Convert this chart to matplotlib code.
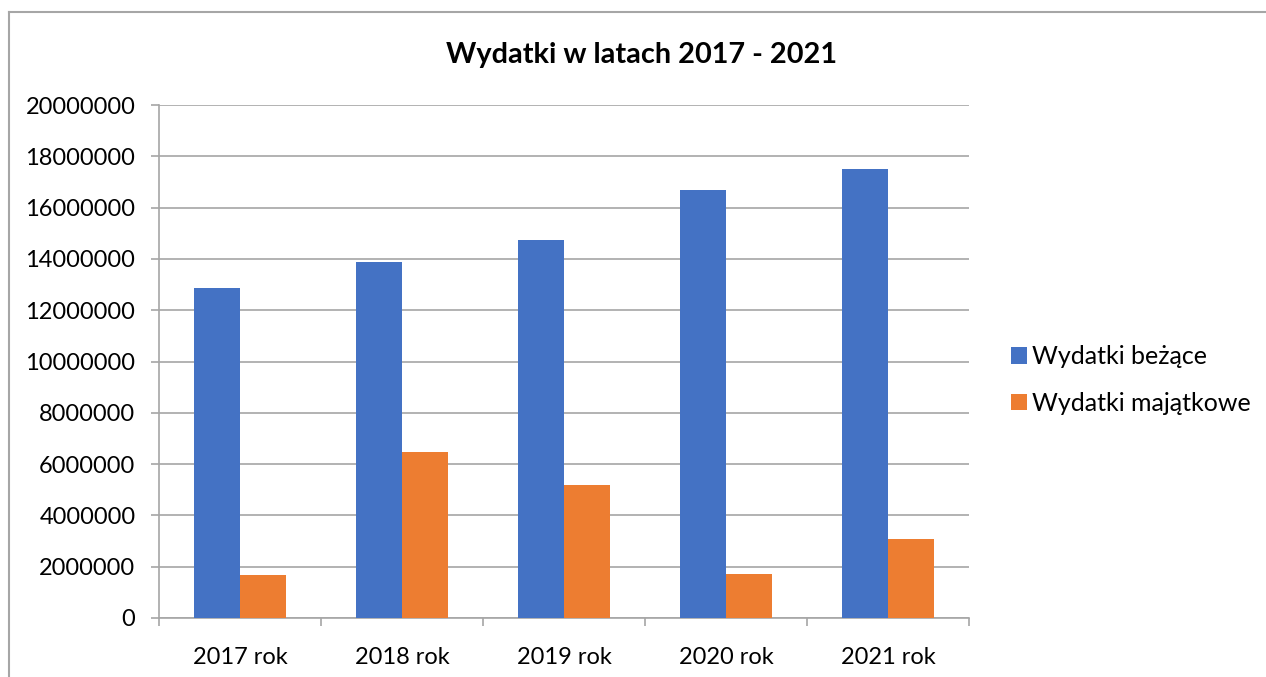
import numpy as np
import matplotlib
matplotlib.use("Agg")
import matplotlib.pyplot as plt
from matplotlib.lines import Line2D

categories = ["2017 rok", "2018 rok", "2019 rok", "2020 rok", "2021 rok"]
biezace = [12880000, 13870000, 14720000, 16670000, 17520000]
majatkowe = [1680000, 6480000, 5170000, 1730000, 3070000]
series_names = ["Wydatki beżące", "Wydatki majątkowe"]
yticks = list(range(0, 20000001, 2000000))

plt.rcParams["font.family"] = ["Lato", "DejaVu Sans"]

fig = plt.figure(figsize=(12.66, 6.77), dpi=100)
ax = fig.add_axes([159 / 1266, 59 / 677, 810 / 1266, 513 / 677])

x = np.arange(len(categories))
w = 0.287
ax.bar(x - w / 2, biezace, w, color="#4472C4", label=series_names[0], zorder=3)
ax.bar(x + w / 2, majatkowe, w, color="#ED7D31", label=series_names[1], zorder=3)

ax.set_xlim(-0.5, len(categories) - 0.5)
ax.set_ylim(0, 20000000)
ax.set_yticks(yticks)
ax.set_yticklabels([str(v) for v in yticks])
ax.set_xticks(x)
ax.set_xticklabels(categories)
ax.set_xticks(np.arange(-0.5, len(categories)), minor=True)

grid_c = "#a6a6a6"
ax.yaxis.grid(True, color=grid_c, linewidth=1.2, zorder=0)
for s in ["top", "right"]:
    ax.spines[s].set_visible(False)
ax.spines["left"].set_color(grid_c)
ax.spines["bottom"].set_color(grid_c)
ax.spines["left"].set_linewidth(1.2)
ax.spines["bottom"].set_linewidth(1.2)

ax.tick_params(axis="y", length=6, color=grid_c, width=1.2, labelsize=17, pad=11)
ax.tick_params(axis="x", which="major", length=0, labelsize=17, pad=21)
ax.tick_params(axis="x", which="minor", length=6, color=grid_c, width=1.2)

fig.text(641 / 1266, 1 - 55 / 677, "Wydatki w latach 2017 - 2021",
         ha="center", va="center", fontsize=20.8, fontweight="bold")

fig.legend(loc="center left", bbox_to_anchor=(988 / 1266, 1 - 380 / 677),
           frameon=False, fontsize=18, handlelength=0.65, handleheight=0.65,
           handletextpad=0.2, labelspacing=0.95)

# outer chart border (cut at the right and bottom)
fig.add_artist(Line2D([9 / 1266, 9 / 1266], [0, 1 - 12 / 677], color=grid_c,
                      linewidth=1.5, transform=fig.transFigure))
fig.add_artist(Line2D([9 / 1266, 1], [1 - 12 / 677, 1 - 12 / 677], color=grid_c,
                      linewidth=1.5, transform=fig.transFigure))

fig.savefig("out.png", dpi=100)
